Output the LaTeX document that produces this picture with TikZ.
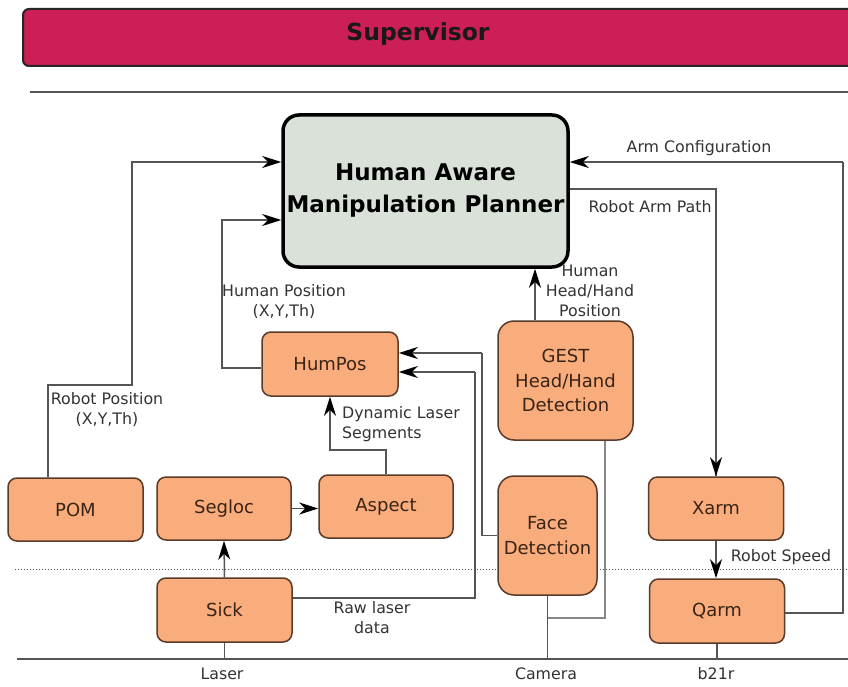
\documentclass[tikz,border=0pt]{standalone}
\usepackage{fontspec}
\setmainfont{DejaVu Sans}
\usetikzlibrary{arrows.meta,calc}
\definecolor{supcol}{HTML}{CB1F55}
\definecolor{boxfill}{HTML}{F9AC7C}
\definecolor{boxedge}{HTML}{5A3A28}
\definecolor{boxtext}{HTML}{3A2416}
\definecolor{plannerfill}{HTML}{D9E1D9}
\definecolor{linecol}{HTML}{555555}
\definecolor{lbl}{HTML}{333333}
\tikzset{
  module/.style={draw=boxedge, line width=1.5pt, fill=boxfill, rounded corners=9pt,
    text=boxtext, font=\fontsize{18}{24.5}\selectfont, align=center, inner sep=0pt},
  conn/.style={draw=linecol, line width=1.5pt},
  arr/.style={conn, -{Stealth[length=19pt,width=12pt,inset=6pt,black]}},
  lab/.style={text=lbl, font=\fontsize{15.8}{20}\selectfont, align=center, inner sep=0pt},
}
\begin{document}
\begin{tikzpicture}[x=1pt,y=-1pt]
\clip (0,0) rectangle (848,687);
\fill[white] (0,0) rectangle (848,687);
% supervisor
\node[draw=black!85, line width=2pt, fill=supcol, rounded corners=6pt, minimum width=850pt, minimum height=57pt, anchor=north west, inner sep=0pt] (sup) at (22,8) {};
\node[font=\bfseries\fontsize{23.5}{26}\selectfont, text=black!90] (suptext) at (418,34) {Supervisor};
\draw[linecol, line width=1.5pt] (30,92) -- (848,92);
% dotted and base lines
\draw[linecol, line width=1pt, dotted] (15,569) -- (848,569);
\draw[linecol, line width=1.5pt] (17,659) -- (848,659);
% planner
\node[draw=black, line width=3.5pt, fill=plannerfill, rounded corners=16pt, minimum width=285pt, minimum height=152pt, font=\bfseries\fontsize{23}{32}\selectfont, align=center, inner sep=0pt] (hamp) at (425.5,191) {Human Aware\\Manipulation Planner};
% modules
\node[module, minimum width=135pt, minimum height=63pt] (pom) at (75.5,509.5) {POM};
\node[module, minimum width=134pt, minimum height=63pt] (seg) at (224,508.5) {Segloc};
\node[module, minimum width=134pt, minimum height=63pt] (asp) at (386,506.5) {Aspect};
\node[module, minimum width=135pt, minimum height=64pt] (sick) at (224.5,610) {Sick};
\node[module, minimum width=136pt, minimum height=64pt] (hp) at (330,364) {HumPos};
\node[module, rounded corners=16pt, minimum width=135pt, minimum height=119pt] (gest) at (565.5,380.5) {GEST\\Head/Hand\\Detection};
\node[module, rounded corners=16pt, minimum width=99pt, minimum height=119pt] (face) at (547.5,535.5) {Face\\Detection};
\node[module, minimum width=135pt, minimum height=63pt] (xarm) at (716,508.5) {Xarm};
\node[module, minimum width=135pt, minimum height=64pt] (qarm) at (717,611) {Qarm};
% connectors
\draw[arr] ([xshift=-27.5pt]pom.north) -- (48,385) -- (132,385) -- (132,162) -- (hamp.west |- 0,162);
\draw[arr] (hp.west |- 0,368) -- (222,368) -- (222,220) -- (hamp.west |- 0,220);
\draw[arr] (asp.north) -- (asp.north |- 0,450) -| (hp.south);
\draw[arr] (seg.east) -- (asp.west |- seg.east);
\draw[arr] (sick.north) -- (seg.south);
\draw[conn] (sick.east |- 0,598) -- (475,598) -- (475,372);
\draw[arr] (475,372) -- (hp.east |- 0,372);
\draw[conn] (face.west) -- (482,535.5) -- (482,353);
\draw[arr] (482,353) -- (hp.east |- 0,353);
\draw[arr] (gest.north -| 535,0) -- (hamp.south -| 535,0);
\draw[linecol!70, line width=1.2pt] (gest.south -| 605,0) -- (605,618) -- (face.south |- 0,618);
\draw[conn] (hamp.east |- 0,189) -| (xarm.north);
\draw[arr] (716,189) -- (xarm.north);
\draw[arr] (xarm.south) -- (xarm.south |- qarm.north);
\draw[conn] (qarm.east |- 0,613) -- (843,613) -- (843,162);
\draw[arr] (843,162) -- (hamp.east |- 0,162);
\draw[conn] (sick.south) -- (sick.south |- 0,659);
\draw[conn] (face.south) -- (face.south |- 0,659);
\draw[conn] (qarm.south) -- (qarm.south |- 0,659);
% labels
\node[lab] (l1) at (107,410) {Robot Position\\(X,Y,Th)};
\node[lab] (l2) at (284,302) {Human Position\\(X,Y,Th)};
\node[lab, align=left, anchor=west] (l3) at (342,424) {Dynamic Laser\\Segments};
\node[lab] (l4) at (372,618) {Raw laser\\data};
\node[lab] (l5) at (590,291) {Human\\Head/Hand\\Position};
\node[lab] (l6) at (650,207) {Robot Arm Path};
\node[lab] (l7) at (699,148) {Arm Configuration};
\node[lab] (l8) at (781,557) {Robot Speed};
\node[lab] (l9) at (222,674) {Laser};
\node[lab] (l10) at (546,674) {Camera};
\node[lab] (l11) at (716,674) {b21r};
\end{tikzpicture}
\end{document}
